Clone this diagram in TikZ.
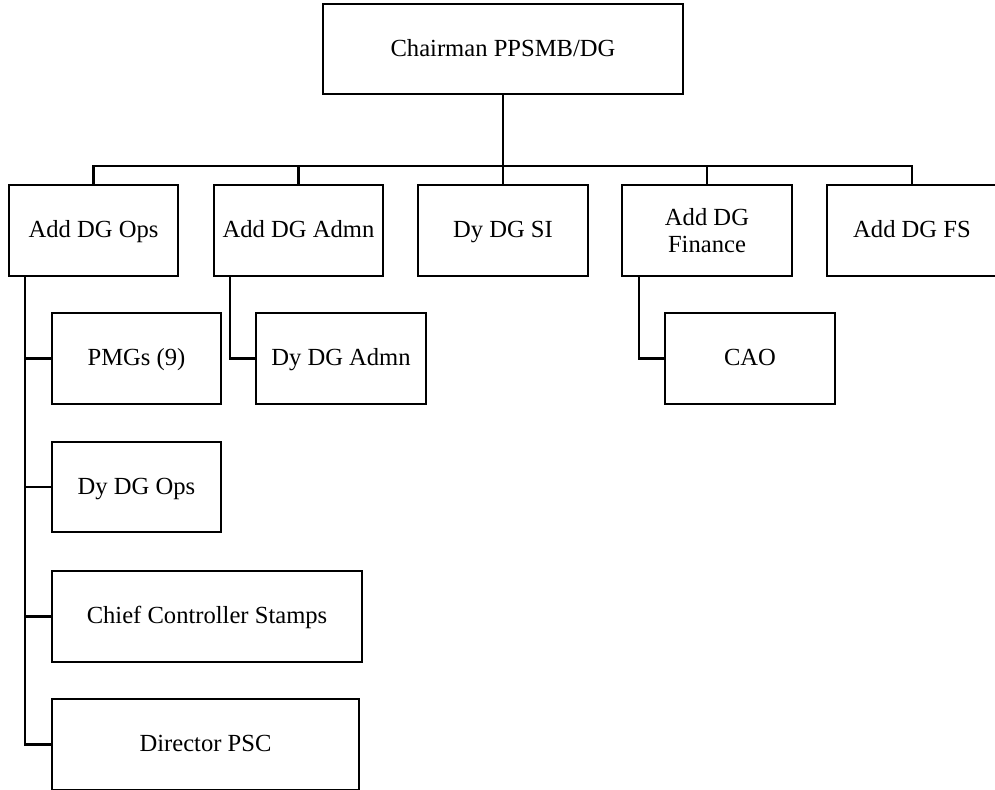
\documentclass[tikz,border=0pt]{standalone}
\usepackage{fontspec}
\setmainfont{Liberation Serif}
\usetikzlibrary{positioning, calc}

\begin{document}
\begin{tikzpicture}[x=0.02cm, y=-0.02cm,
		unitbase/.style={rectangle, draw=black, line width=1.15pt, fill=white, align=center, minimum height=1.82cm, font=\fontsize{14}{15}\selectfont},
		unit/.style={unitbase, text height=0.8em, text depth=0em},
		link/.style={draw=black, line width=1.15pt}]
			\useasboundingbox (0,0) rectangle (995,790);
			% Top
			\node[unit, minimum width=7.2cm, minimum height=1.8cm] (chair) at (503,49) {Chairman PPSMB/DG};
			% Second level
			\node[unit, minimum width=3.38cm] (ops) at (93.5,230.5) {Add DG Ops};
			\node[unit, minimum width=3.38cm] (admn) at (298.5,230.5) {Add DG Admn};
			\node[unit, minimum width=3.4cm] (si) at (503,230.5) {Dy DG SI};
			\node[unitbase, minimum width=3.4cm] (fin) at (707,230.5) {Add DG\\Finance};
			\node[unit, minimum width=3.4cm] (fs) at (912,230.5) {Add DG FS};
			% Under Ops
			\node[unit, minimum width=3.38cm] (pmg) at (136.5,358.5) {PMGs (9)};
			\node[unit, minimum width=3.38cm, minimum height=1.8cm] (dyops) at (136.5,487) {Dy DG Ops};
			\node[unit, minimum width=6.2cm] (ccs) at (207,616.5) {Chief Controller Stamps};
			\node[unit, minimum width=6.14cm] (psc) at (205.5,744.5) {Director PSC};
			% Under Admn and Finance
			\node[unit, minimum width=3.4cm] (dyadmn) at (341,358.5) {Dy DG Admn};
			\node[unit, minimum width=3.4cm] (cao) at (750,358.5) {CAO};
			% Bus
			\coordinate (bus) at (503,166);
			\draw[link] (chair.south) -- (bus);
			\draw[link] (ops.north) |- (bus) -| (fs.north);
			\foreach \n in {admn, si, fin}
				\draw[link] (\n.north) -- (\n.north |- bus);
			% Branches
			\foreach \n in {pmg, dyops, ccs, psc}
				\draw[link] ([xshift=0.34cm]ops.south west) |- (\n.west);
			\draw[link] ([xshift=0.34cm]admn.south west) |- (dyadmn.west);
			\draw[link] ([xshift=0.36cm]fin.south west) |- (cao.west);
		\end{tikzpicture}
\end{document}
